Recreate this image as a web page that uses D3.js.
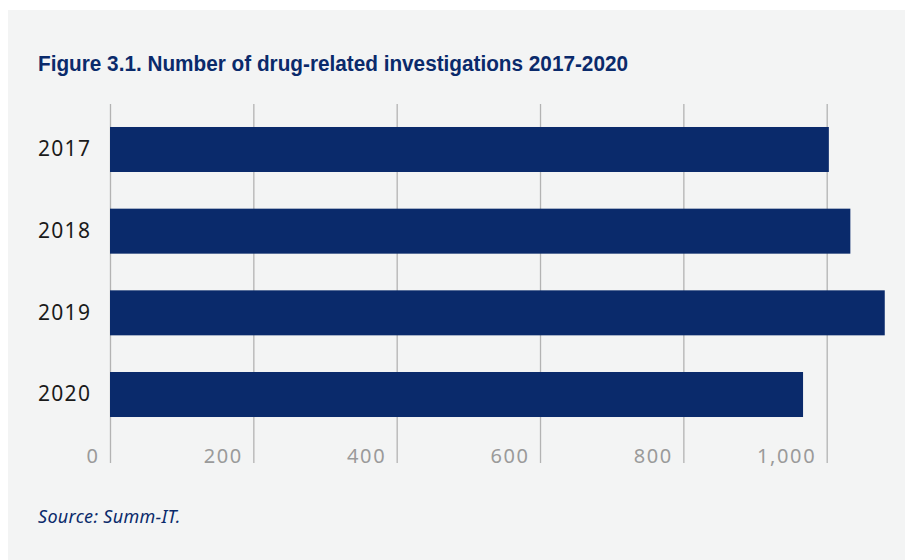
<!DOCTYPE html>
<html>
<head>
<meta charset="utf-8">
<script src="https://cdn.jsdelivr.net/npm/d3@7"></script>
<style>
  body { margin: 0; background: #fff; }
  svg { display: block; }
  .tick line { stroke: #b3b3b3; stroke-width: 1.3; }
  .x.axis .tick text { fill: #9a9a9a; font-family: "Noto Sans", sans-serif; font-size: 20px; letter-spacing: 1.6px; }
  .y.axis .tick text { fill: #1a1a1a; font-family: "Noto Sans", sans-serif; font-size: 21px; letter-spacing: 1.3px; }
  .domain { display: none; }
</style>
</head>
<body>
<svg width="905" height="560"></svg>
<script>
var years = ['2017', '2018', '2019', '2020'];
var investigations = [1003, 1033, 1081, 967];
var tickValues = [0, 200, 400, 600, 800, 1000];

var svg = d3.select('svg');

svg.append('rect')
    .attr('x', 8)
    .attr('y', 10)
    .attr('width', 897)
    .attr('height', 550)
    .style('fill', '#f3f4f4');

var xScale = d3.scaleLinear()
    .domain([0, 1000])
    .range([110, 826.7]);

var yScale = d3.scaleBand()
    .domain(years)
    .range([104, 440])
    .paddingInner(0.449)
    .paddingOuter(0.2815);

// gridlines + labels
var xAxis = d3.axisBottom(xScale)
    .tickValues(tickValues)
    .tickSize(-(463 - 104))
    .tickPadding(0)
    .tickFormat(d3.format(','));

svg.append('g')
    .attr('class', 'x axis')
    .attr('transform', 'translate(0,463)')
    .call(xAxis)
    .selectAll('.tick text')
    .attr('text-anchor', 'end')
    .attr('x', -11)
    .attr('y', 0)
    .attr('dy', '0');

svg.selectAll('rect.bar')
    .data(investigations)
    .enter()
    .append('rect')
    .attr('class', 'bar')
    .attr('x', xScale(0))
    .attr('y', function(d, i){ return yScale(years[i]); })
    .attr('height', yScale.bandwidth())
    .attr('width', function(d){ return xScale(d) - xScale(0); })
    .style('fill', '#0a2a6b');

var yAxis = d3.axisLeft(yScale).tickSize(0).tickPadding(0);

svg.append('g')
    .attr('class', 'y axis')
    .attr('transform', 'translate(38,0)')
    .call(yAxis)
    .selectAll('.tick text')
    .attr('text-anchor', 'start')
    .attr('x', 0);

svg.append('text')
   .attr('x', 38)
   .attr('y', 71)
   .attr('textLength', 590)
   .attr('lengthAdjust', 'spacingAndGlyphs')
   .style('font-family', '"Liberation Sans", sans-serif')
   .style('font-weight', 'bold')
   .style('font-size', '22px')
   .style('fill', '#0a2a6b')
   .text('Figure 3.1. Number of drug-related investigations 2017-2020');

svg.append('text')
   .attr('x', 38)
   .attr('y', 523)
   .style('font-family', '"Noto Sans", sans-serif')
   .style('font-style', 'italic')
   .style('font-size', '18px')
   .style('letter-spacing', '0.3px')
   .style('fill', '#0a2a6b')
   .text('Source: Summ-IT.');
</script>
</body>
</html>
